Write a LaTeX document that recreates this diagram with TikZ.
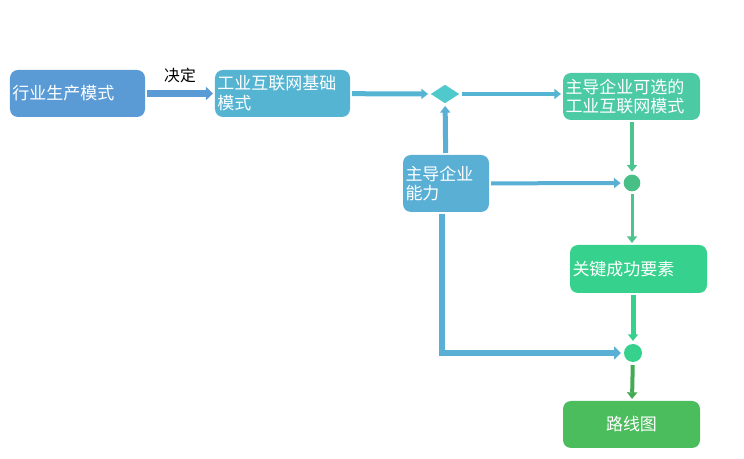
\documentclass[tikz,border=0pt]{standalone}
\usepackage{fontspec}
\usepackage{xcolor}
\usepackage{tikz}
\usetikzlibrary{arrows.meta,positioning,calc,shapes.geometric}
\newfontfamily\cjkfont{Noto Sans CJK SC}
\definecolor{ModeBlue}{HTML}{5B9BD5}
\definecolor{BaseTeal}{HTML}{56B4D3}
\definecolor{GateCyan}{HTML}{4FC9CC}
\definecolor{OptionGreen}{HTML}{4CCAA4}
\definecolor{AbilityBlue}{HTML}{5AAFD5}
\definecolor{DotGreen}{HTML}{48BF86}
\definecolor{KeyGreen}{HTML}{36D28D}
\definecolor{MapGreen}{HTML}{4CBD5C}
\definecolor{LinkGreen}{HTML}{4DC48E}

\begin{document}
\begin{tikzpicture}[
        x=0.03cm, y=-0.03cm,
        font=\cjkfont\fontsize{14.5pt}{17pt}\selectfont,
        box/.style={
            rounded corners=0.24cm,
            align=left,
            inner sep=2pt,
            outer sep=0.06cm,
            text=white,
            minimum height=1.41cm
        },
        dot/.style={
            circle,
            inner sep=0pt,
            outer sep=0.09cm
        },
        arrow/.style={-{Triangle[length=0.21cm, width=0.39cm]}, line width=0.2cm},
        thinarrow/.style={-{Triangle[length=0.2cm, width=0.3cm]}, line width=0.12cm}
    ]
        \useasboundingbox (0,0) rectangle (744,459);

        \node[box, fill=ModeBlue, minimum width=4.05cm, text width=3.9cm] (industry) at (77.5,93.5)
            {行业生产模式};
        \node[box, fill=BaseTeal, minimum width=4.05cm, text width=3.9cm] (base) at (282.5,93.5)
            {工业互联网基础\\模式};
        \node[diamond, fill=GateCyan, minimum width=0.9cm, minimum height=0.6cm,
              inner sep=0pt, outer sep=0.06cm] (gate) at (445,94) {};
        \node[box, fill=OptionGreen, minimum width=4.11cm, text width=3.96cm] (option) at (631.5,96.5)
            {主导企业可选的\\工业互联网模式};
        \node[box, fill=AbilityBlue, minimum width=2.58cm, minimum height=1.71cm, text width=2.43cm] (ability) at (446,183.5)
            {主导企业\\能力};
        \node[dot, fill=DotGreen, minimum size=0.5cm] (join) at (632,183) {};
        \node[box, fill=KeyGreen, minimum width=4.11cm, minimum height=1.44cm, text width=3.96cm] (key) at (638.5,269)
            {关键成功要素};
        \node[dot, fill=KeyGreen, minimum size=0.54cm] (merge) at (633,353) {};
        \node[box, fill=MapGreen, minimum width=4.11cm, align=center] (roadmap) at (631.5,424.5)
            {路线图};

        \draw[arrow, draw=ModeBlue] (industry) -- node[above=0.1cm, text=black, font=\cjkfont\fontsize{13.5pt}{15pt}\selectfont] {决定} (base);
        \draw[thinarrow, line width=0.15cm, draw=BaseTeal] (base) -- (gate);
        \draw[thinarrow, draw=BaseTeal] (gate) -- (gate -| option.west);
        \draw[thinarrow, line width=0.15cm, draw=AbilityBlue] (ability) -- (gate);
        \draw[thinarrow, draw=AbilityBlue] (ability) -- (join);
        \draw[thinarrow, draw=LinkGreen] (option.south -| join) -- (join);
        \draw[thinarrow, line width=0.09cm, draw=LinkGreen] (join) -- (join |- key.north);
        \draw[thinarrow, line width=0.15cm, draw=KeyGreen] (key.south -| merge) -- (merge);
        \draw[arrow, draw=AbilityBlue] ([xshift=-0.12cm]ability.south) |- (merge);
        \draw[thinarrow, draw=MapGreen!90!black] (merge) -- (roadmap);
    \end{tikzpicture}
\end{document}
